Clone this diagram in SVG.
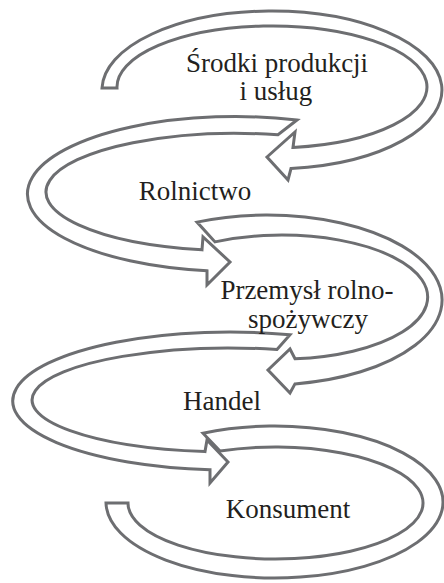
<svg xmlns="http://www.w3.org/2000/svg" width="444" height="583" viewBox="0 0 444 583">
<style>
.band{fill:#ffffff;stroke:#6d6e71;stroke-width:3;stroke-linejoin:miter;stroke-miterlimit:10}
.lbl{font-family:"Liberation Serif","Times New Roman",serif;font-size:27px;fill:#231f20;text-anchor:middle}
</style>
<rect width="444" height="583" fill="#ffffff"/>
<g id="connectors">
<path class="band" d="M102,88 A170,79 0 1 1 291,168.5 L288,180 L267,157 L295,132 L293,147.4 A155,61 0 1 0 117,88 Z"/>
<path class="band" d="M297,120 A208,77.5 0 1 0 207,270.8 L207,285 L230,262 L203,237 L202,249.8 A190,58.7 0 1 1 278,134.8 Z"/>
<path class="band" d="M197,222.1 A175,85 0 1 1 295,383.9 L290,393 L268,370 L290,349 L295,358.8 A146,62 0 1 0 215,241.9 Z"/>
<path class="band" d="M290,334.7 A217,69 0 1 0 210,469.7 L210,483 L228,462 L207,440 L205,451.6 A198,52 0 1 1 277,349.5 Z"/>
<path class="band" d="M203,433.2 A168.5,76 0 1 1 106,503 L128,503 A147.5,56 0 1 0 220,451.1 Z"/>
</g>
<g id="srodki">
<text class="lbl" x="277" y="72">Środki produkcji</text>
<text class="lbl" x="276" y="100">i usług</text>
</g>
<g id="rolnictwo">
<text class="lbl" x="195" y="200">Rolnictwo</text>
</g>
<g id="przemysl">
<text class="lbl" x="307" y="299">Przemysł rolno-</text>
<text class="lbl" x="308" y="328">spożywczy</text>
</g>
<g id="handel">
<text class="lbl" x="222" y="410">Handel</text>
</g>
<g id="konsument">
<text class="lbl" x="288" y="518">Konsument</text>
</g>
</svg>
